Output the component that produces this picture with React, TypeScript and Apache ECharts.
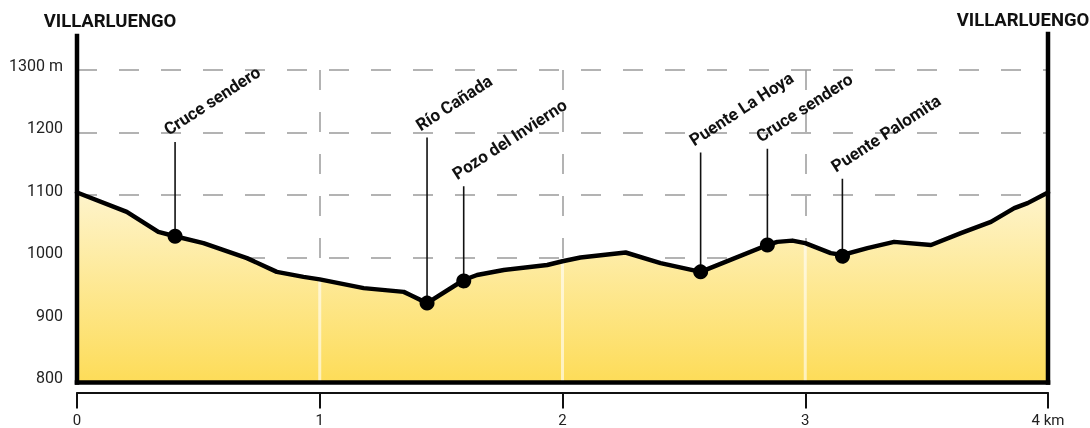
import React, { useEffect, useRef } from "react";
import * as echarts from "echarts";

// Elevation profile (km, m)
const profileKm = [
  0, 0.205, 0.335, 0.404, 0.521, 0.7, 0.823, 0.933, 1.0, 1.181, 1.346, 1.373, 1.442,
  1.593, 1.648, 1.758, 1.937, 2.0, 2.074, 2.26, 2.404, 2.569, 2.844, 2.885, 2.947, 3.0,
  3.105, 3.153, 3.256, 3.366, 3.518, 3.641, 3.765, 3.861, 3.916, 4.0,
];
const profileElev = [
  1104, 1073, 1041, 1034, 1023, 999, 977, 969, 965, 951, 945, 940, 927,
  964, 972, 980, 988, 994, 1000, 1008, 991, 977, 1020, 1025, 1027, 1023,
  1007, 1004, 1015, 1025, 1020, 1039, 1057, 1079, 1087, 1104,
];

// Points of interest
const poiNames = [
  "Cruce sendero",
  "Río Cañada",
  "Pozo del Invierno",
  "Puente La Hoya",
  "Cruce sendero",
  "Puente Palomita",
];
const poiKm = [0.404, 1.442, 1.593, 2.569, 2.844, 3.153];
const poiElev = [1034, 927, 964, 977, 1020, 1004];
const poiLeaderTop = [1185, 1192, 1114, 1168, 1174, 1126];

// Km grid lines inside the profile (top = profile elevation there)
const gridKm = [1, 2, 3];
const gridTopElev = [965, 994, 1023];

const endNames = ["VILLARLUENGO", "VILLARLUENGO"];

export default function App() {
  const ref = useRef<HTMLDivElement>(null);

  useEffect(() => {
    if (!ref.current) return;
    const chart = echarts.init(ref.current, null, { renderer: "svg" });
    const profile = profileKm.map((k, i) => [k, profileElev[i]]);
    const rot = (33 * Math.PI) / 180;
    const gridStyle = { color: "#9a9a9a", width: 1.5, type: [20, 22] as any };

    chart.setOption({
      animation: false,
      textStyle: { fontFamily: "Roboto" },
      grid: { left: 77, right: 42, top: 70, bottom: 45.5, outerBoundsMode: "none" },
      xAxis: {
        type: "value",
        min: 0,
        max: 4,
        interval: 1,
        offset: 10,
        axisLine: { show: true, lineStyle: { color: "#111", width: 2 } },
        axisTick: { show: true, length: 16, lineStyle: { color: "#111", width: 2 } },
        axisLabel: {
          fontSize: 15,
          color: "#222",
          margin: 20,
          lineHeight: 15,
          formatter: (v: number) => (v === 4 ? "4 km" : String(v)),
        },
        splitLine: { show: true, lineStyle: gridStyle },
      },
      yAxis: {
        type: "value",
        min: 800,
        max: 1300,
        interval: 100,
        axisLine: { show: false },
        axisTick: { show: false },
        axisLabel: {
          fontSize: 16,
          color: "#222",
          margin: 14,
          verticalAlign: "bottom",
          lineHeight: 10,
          formatter: (v: number) => (v === 1300 ? "1300 m" : String(v)),
        },
        splitLine: { show: true, lineStyle: gridStyle },
      },
      graphic: [
        {
          type: "text",
          x: 110,
          y: 21,
          style: {
            text: endNames[0],
            fontFamily: "Roboto",
            fontWeight: "bold",
            fontSize: 18.5,
            fill: "#111",
            align: "center",
            verticalAlign: "middle",
          },
        },
        {
          type: "text",
          x: 1023,
          y: 20,
          style: {
            text: endNames[1],
            fontFamily: "Roboto",
            fontWeight: "bold",
            fontSize: 18.5,
            fill: "#111",
            align: "center",
            verticalAlign: "middle",
          },
        },
      ],
      series: [
        {
          type: "line",
          data: profile,
          showSymbol: false,
          lineStyle: { width: 0 },
          areaStyle: {
            origin: "start",
            opacity: 1,
            color: new echarts.graphic.LinearGradient(0, 0, 0, 1, [
              { offset: 0, color: "#fef4cc" },
              { offset: 1, color: "#fddc58" },
            ]),
          },
          z: 2,
          silent: true,
        },
        {
          type: "custom",
          data: gridKm.map((k, i) => [k, gridTopElev[i]]),
          encode: { x: 0, y: 1 },
          z: 3,
          silent: true,
          renderItem: (params: any, api: any) => {
            const p0 = api.coord([api.value(0), 800]);
            const p1 = api.coord([api.value(0), api.value(1)]);
            return {
              type: "line",
              shape: { x1: p0[0], y1: p0[1], x2: p1[0], y2: p1[1] },
              style: { stroke: "rgba(255,255,255,0.6)", lineWidth: 3 },
            };
          },
        },
        {
          type: "line",
          data: profile,
          showSymbol: false,
          lineStyle: { color: "#000", width: 4.5, join: "round", cap: "round" },
          z: 4,
          silent: true,
        },
        {
          type: "custom",
          data: poiKm.map((k, i) => [k, poiElev[i], poiLeaderTop[i]]),
          encode: { x: 0, y: 1 },
          z: 5,
          silent: true,
          renderItem: (params: any, api: any) => {
            const p = api.coord([api.value(0), api.value(1)]);
            const t = api.coord([api.value(0), api.value(2)]);
            return {
              type: "group",
              children: [
                {
                  type: "line",
                  shape: { x1: p[0], y1: p[1], x2: t[0], y2: t[1] },
                  style: { stroke: "#111", lineWidth: 1.6 },
                },
                {
                  type: "circle",
                  shape: { cx: p[0], cy: p[1], r: 7.5 },
                  style: { fill: "#000" },
                },
                {
                  type: "text",
                  x: t[0] - 5,
                  y: t[1] - 4,
                  rotation: rot,
                  style: {
                    text: poiNames[params.dataIndex],
                    fontFamily: "Roboto",
                    fontWeight: "bold",
                    fontSize: 17,
                    fill: "#111",
                    align: "left",
                    verticalAlign: "bottom",
                  },
                },
              ],
            };
          },
        },
        {
          type: "custom",
          data: [[0, 800]],
          encode: { x: 0, y: 1 },
          z: 6,
          silent: true,
          renderItem: (params: any, api: any) => {
            const a = api.coord([0, 800]);
            const b = api.coord([4, 800]);
            const st = { stroke: "#000", lineWidth: 4.5, lineCap: "square" };
            return {
              type: "group",
              children: [
                { type: "line", shape: { x1: a[0], y1: 36, x2: a[0], y2: a[1] }, style: st },
                { type: "line", shape: { x1: a[0], y1: a[1], x2: b[0], y2: b[1] }, style: st },
                { type: "line", shape: { x1: b[0], y1: 34, x2: b[0], y2: b[1] }, style: st },
              ],
            };
          },
        },
      ],
    });

    return () => chart.dispose();
  }, []);

  return (
    <div
      ref={ref}
      style={{ position: "fixed", left: 0, top: 0, width: 1090, height: 428 }}
    />
  );
}
